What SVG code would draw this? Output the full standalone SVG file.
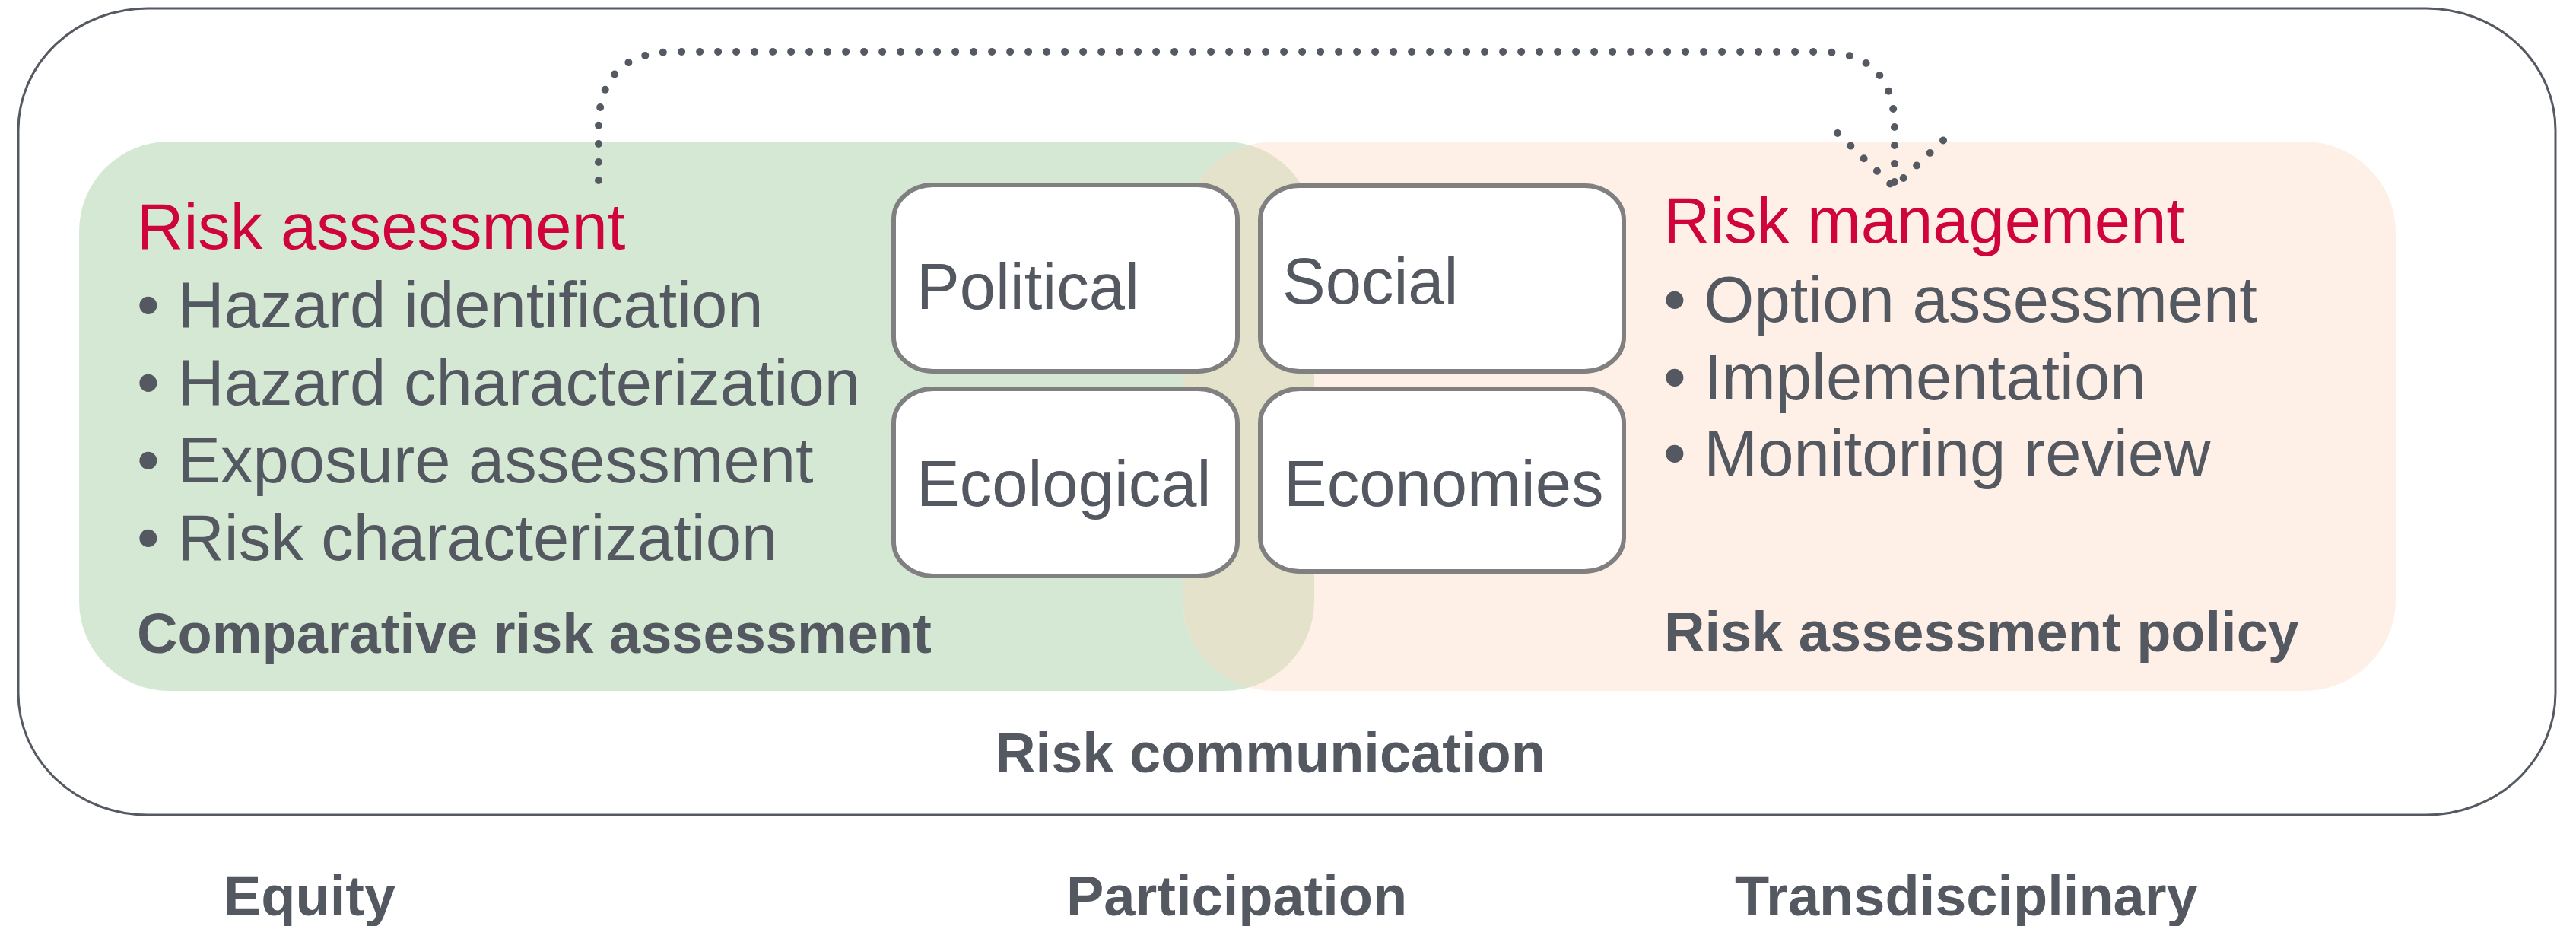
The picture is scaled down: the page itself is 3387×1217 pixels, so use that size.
<svg xmlns="http://www.w3.org/2000/svg" width="3387" height="1217" viewBox="0 0 3387 1217">
<style>
.t{font-family:"Liberation Sans",Arial,sans-serif;font-size:85px;fill:#545861}
.h{font-family:"Liberation Sans",Arial,sans-serif;font-size:85px;fill:#d0043c}
.b{font-family:"Liberation Sans",Arial,sans-serif;font-size:74px;font-weight:bold;fill:#545861}
.box{fill:#ffffff;stroke:#808080;stroke-width:6}
.dot{fill:none;stroke:#555a62;stroke-width:10;stroke-linecap:round;stroke-dasharray:0 24}
</style>
<defs>
<clipPath id="gclip"><rect x="104" y="186" width="1624" height="722" rx="118" ry="118"/></clipPath>
</defs>
<rect width="3387" height="1217" fill="#ffffff"/>
<g id="outer">
<rect x="24" y="11" width="3336" height="1060" rx="170" ry="160" fill="#ffffff" stroke="#555a62" stroke-width="3"/>
<text class="b" x="1670" y="1015" text-anchor="middle">Risk communication</text>
</g>
<g id="assessment">
<rect x="104" y="186" width="1624" height="722" rx="118" ry="118" fill="#d5e8d4"/>
</g>
<g id="management">
<rect x="1555" y="186" width="1595" height="722" rx="120" ry="120" fill="#fef0e6"/>
<rect x="1555" y="186" width="1595" height="722" rx="120" ry="120" fill="#e4e2cb" clip-path="url(#gclip)"/>
</g>
<g id="assessment-text">
<text class="h" x="180" y="327">Risk assessment</text>
<text class="t" x="180" y="430">• Hazard identification</text>
<text class="t" x="180" y="532">• Hazard characterization</text>
<text class="t" x="180" y="634">• Exposure assessment</text>
<text class="t" x="180" y="736">• Risk characterization</text>
<text class="b" x="180" y="858">Comparative risk assessment</text>
</g>
<g id="management-text">
<text class="h" x="2187" y="319">Risk management</text>
<text class="t" x="2187" y="423">• Option assessment</text>
<text class="t" x="2187" y="525">• Implementation</text>
<text class="t" x="2187" y="625">• Monitoring review</text>
<text class="b" x="2188" y="856">Risk assessment policy</text>
</g>
<g id="political">
<rect class="box" x="1175" y="243" width="452" height="245" rx="52" ry="45"/>
<text class="t" x="1205" y="406">Political</text>
</g>
<g id="social">
<rect class="box" x="1657" y="244" width="478" height="244" rx="52" ry="45"/>
<text class="t" x="1686" y="399">Social</text>
</g>
<g id="ecological">
<rect class="box" x="1175" y="511" width="452" height="246" rx="52" ry="45"/>
<text class="t" x="1205" y="665">Ecological</text>
</g>
<g id="economies">
<rect class="box" x="1657" y="511" width="478" height="240" rx="52" ry="45"/>
<text class="t" x="1688" y="665">Economies</text>
</g>
<g id="connectors">
<path class="dot" d="M787,237 L787,168 Q787,68 888,68 L2391,68 Q2491,68 2491,168 L2491,248"/>
<path class="dot" d="M2416,175 L2490,246 L2562,178"/>
</g>
<g id="labels">
<text class="b" x="294" y="1203">Equity</text>
<text class="b" x="1402" y="1203">Participation</text>
<text class="b" x="2281" y="1203">Transdisciplinary</text>
</g>
</svg>
